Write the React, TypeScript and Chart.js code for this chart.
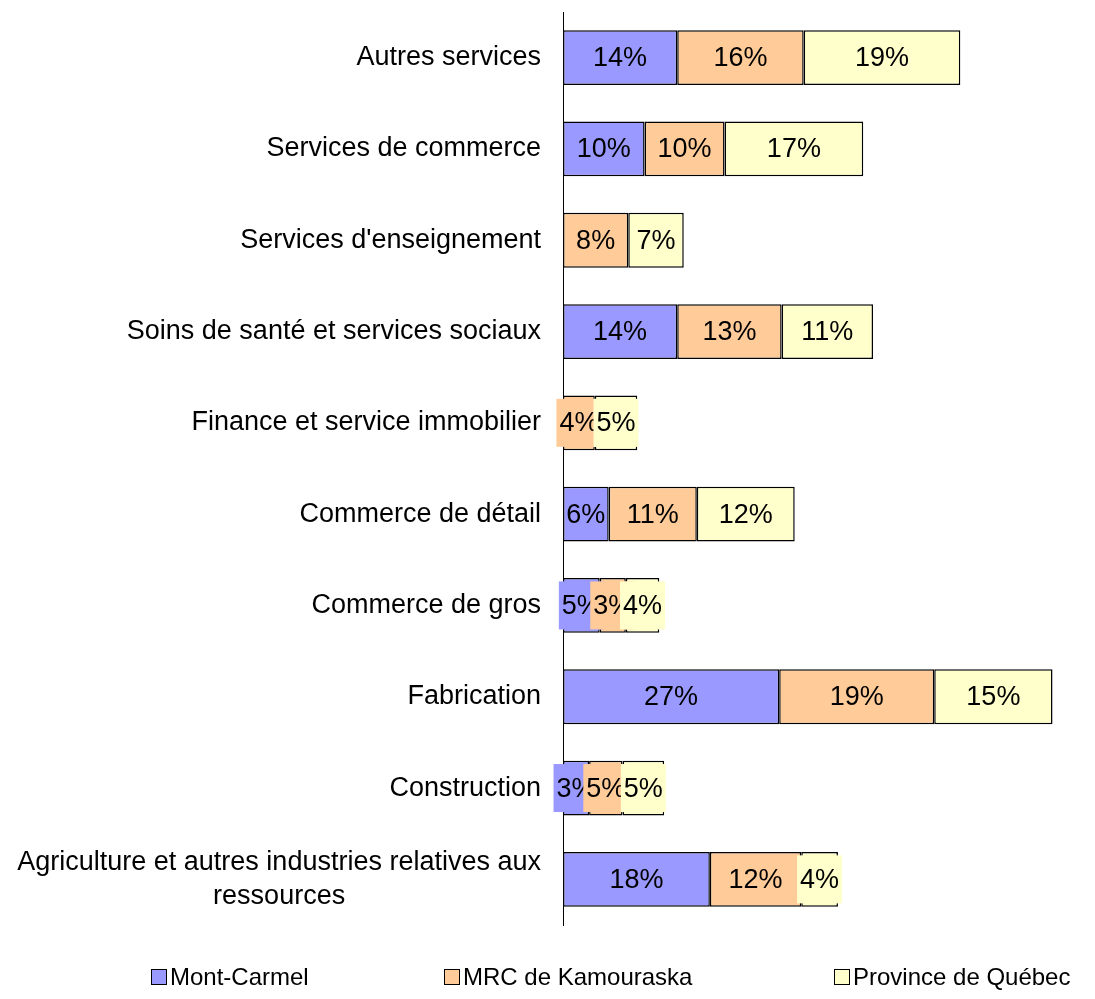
import React, { useEffect, useRef } from 'react';
import Chart from 'chart.js/auto';

const categories: string[][] = [
  ['Autres services'],
  ['Services de commerce'],
  ["Services d'enseignement"],
  ['Soins de santé et services sociaux'],
  ['Finance et service immobilier'],
  ['Commerce de détail'],
  ['Commerce de gros'],
  ['Fabrication'],
  ['Construction'],
  ['Agriculture et autres industries relatives aux', 'ressources'],
];
const montCarmel = [14, 10, 0, 14, 0, 5.6, 4.5, 26.5, 3.2, 18];
const mrc = [15.5, 9.8, 8, 12.8, 3.9, 10.8, 3.2, 19, 4.1, 11.2];
const province = [19.2, 17, 6.8, 11.2, 5.2, 12, 4.1, 14.5, 5.1, 4.5];
// labels as printed on the chart
const montCarmelLabels = [14, 10, 0, 14, 0, 6, 5, 27, 3, 18];
const mrcLabels = [16, 10, 8, 13, 4, 11, 3, 19, 5, 12];
const provinceLabels = [19, 17, 7, 11, 5, 12, 4, 15, 5, 4];
const seriesNames = ['Mont-Carmel', 'MRC de Kamouraska', 'Province de Québec'];
const colors = ['#9999ff', '#ffcc99', '#ffffcc'];

const FONT = '27px "Liberation Sans", Arial, sans-serif';

const App: React.FC = () => {
  const ref = useRef<HTMLCanvasElement>(null);
  useEffect(() => {
    if (!ref.current) return;
    const printed = [montCarmelLabels, mrcLabels, provinceLabels];
    const labelPlugin = {
      id: 'labels',
      afterDatasetsDraw(chart: any) {
        const ctx = chart.ctx;
        ctx.save();
        ctx.font = FONT;
        ctx.textBaseline = 'middle';
        ctx.textAlign = 'center';
        chart.data.datasets.forEach((ds: any, di: number) => {
          chart.getDatasetMeta(di).data.forEach((el: any, i: number) => {
            const v = printed[di][i];
            if (!v) return;
            const t = v + '%';
            const cx = (el.x + el.base) / 2;
            const w = Math.abs(el.x - el.base);
            const tw = ctx.measureText(t).width + 6;
            if (tw > w) {
              ctx.fillStyle = colors[di];
              ctx.fillRect(cx - tw / 2, el.y - 24, tw, 48);
            }
            ctx.fillStyle = '#000';
            ctx.fillText(t, cx, el.y + 1);
          });
        });
        const ys = chart.scales.y;
        categories.forEach((lines, i) => {
          const y = ys.getPixelForValue(i);
          const right = chart.chartArea.left - 22;
          if (lines.length === 1) {
            ctx.textAlign = 'right';
            ctx.fillText(lines[0], right, y);
          } else {
            ctx.textAlign = 'center';
            const wMax = Math.max(...lines.map((l) => ctx.measureText(l).width));
            const cx = right - wMax / 2;
            lines.forEach((l, k) => ctx.fillText(l, cx, y + (k - (lines.length - 1) / 2) * 34));
          }
        });
        ctx.restore();
      },
    };
    const chart = new Chart(ref.current, {
      type: 'bar',
      data: {
        labels: categories.map((c) => c.join(' ')),
        datasets: [montCarmel, mrc, province].map((d, i) => ({
          label: seriesNames[i],
          data: d,
          backgroundColor: colors[i],
          borderColor: '#000',
          borderWidth: 1.5,
          borderSkipped: false,
          categoryPercentage: 1,
          barPercentage: 0.6,
        })),
      },
      options: {
        indexAxis: 'y',
        animation: false,
        responsive: false,
        layout: { padding: { top: 4, bottom: 66, right: 10 } },
        plugins: { legend: { display: false }, tooltip: { enabled: false } },
        scales: {
          x: { stacked: true, display: false, min: 0, max: 63 },
          y: {
            stacked: true,
            grid: { display: false },
            border: { display: true, color: '#000', width: 1 },
            ticks: { display: false },
            afterFit: (s: any) => { s.width = 555; },
          },
        },
      },
      plugins: [labelPlugin],
    });
    return () => chart.destroy();
  }, []);

  const legendX = [143, 436, 826];
  return (
    <div style={{ position: 'relative', width: 1079, height: 983, fontFamily: '"Liberation Sans", Arial, sans-serif' }}>
      <canvas ref={ref} width={1079} height={983} style={{ display: 'block' }} />
      {seriesNames.map((n, i) => (
        <div key={n} style={{ position: 'absolute', left: legendX[i], top: 955, fontSize: 24, lineHeight: '28px', display: 'flex', alignItems: 'center', whiteSpace: 'nowrap' }}>
          <span style={{ display: 'inline-block', width: 14, height: 14, background: colors[i], border: '1.5px solid #000', marginRight: 3 }} />
          {n}
        </div>
      ))}
    </div>
  );
};

export default App;
